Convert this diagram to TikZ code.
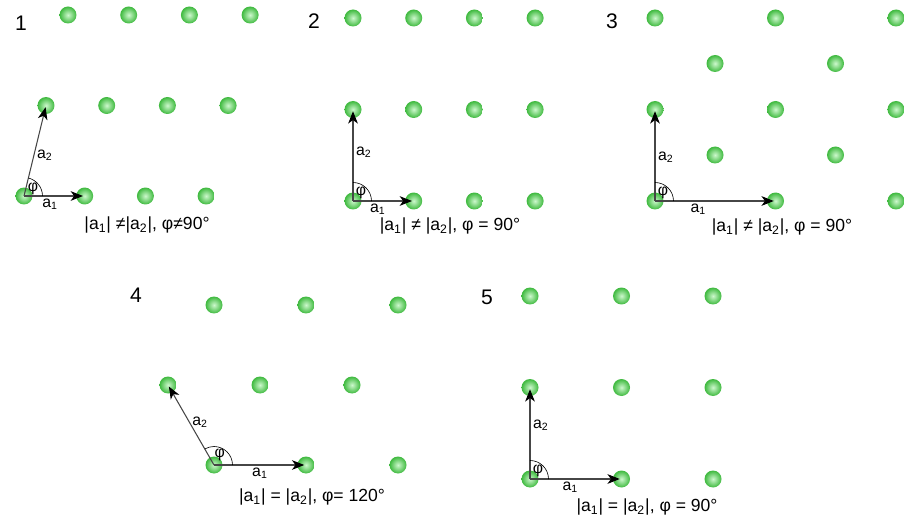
\documentclass[tikz,border=0pt]{standalone}
\usepackage{fontspec}
\setmainfont{Liberation Sans}
\usetikzlibrary{arrows.meta, angles, quotes}

\definecolor{dotin}{RGB}{205,248,205}
\definecolor{dotout}{RGB}{62,185,62}
\definecolor{vecgray}{RGB}{70,70,70}

\tikzset{
  site/.style={circle, inner sep=0pt, minimum size=0.34cm, shading=radial, inner color=dotin, outer color=dotout},
  vec/.style={draw=vecgray, line width=0.6pt, -{Stealth[black, length=7pt, width=5.5pt, inset=2pt]}, shorten >=1pt},
  phi/.style={draw, line width=0.35pt, angle radius=0.37cm, angle eccentricity=0.62},
  every pic quotes/.style={font=\small, inner sep=0pt},
  vlab/.style={font=\small, inner sep=1.5pt},
  num/.style={font=\large},
  lattcap/.style={font=\normalsize}
}

\begin{document}
\begin{tikzpicture}[x=0.02cm, y=0.02cm]
    \useasboundingbox (0,0) rectangle (915,531);
    % 1: oblique
    \foreach \j in {0,1,2} {
        \foreach \i in {0,...,3} {
            \node[site] (A\i\j) at (24+60.7*\i+22*\j, 335+90.5*\j) {};
        }
    }
    \draw[vec] (A00.center) -- node[vlab, below, pos=0.43] {a\textsubscript{1}} (A10.center);
    \draw[vec] (A00.center) -- node[vlab, right, pos=0.45] {a\textsubscript{2}} (A01.center);
    \pic[phi, "φ"] {angle=A10--A00--A01};
    \node[num] (n1) at (21,508) {1};
    \node[lattcap] (c1) at (147,306) {|a\textsubscript{1}| ≠|a\textsubscript{2}|, φ≠90°};

    % 2: rectangular
    \foreach \j in {0,1,2} {
        \foreach \i in {0,...,3} {
            \node[site] (B\i\j) at (353+60.7*\i, 330+91.5*\j) {};
        }
    }
    \draw[vec] (B00.center) -- node[vlab, below, pos=0.41] {a\textsubscript{1}} (B10.center);
    \draw[vec] (B00.center) -- node[vlab, right, pos=0.53] {a\textsubscript{2}} (B01.center);
    \pic[phi, "φ"] {angle=B10--B00--B01};
    \node[num] (n2) at (314,510) {2};
    \node[lattcap] (c2) at (450,305) {|a\textsubscript{1}| ≠ |a\textsubscript{2}|, φ = 90°};

    % 3: centred rectangular
    \foreach \j in {0,1,2} {
        \foreach \i in {0,1,2} {
            \node[site] (C\i\j) at (655+120.5*\i, 330+91.5*\j) {};
        }
    }
    \foreach \j in {0,1} {
        \foreach \i in {0,1} {
            \node[site] (Cc\i\j) at (715+120.5*\i, 376+91.5*\j) {};
        }
    }
    \draw[vec] (C00.center) -- node[vlab, below, pos=0.36] {a\textsubscript{1}} (C10.center);
    \draw[vec] (C00.center) -- node[vlab, right, pos=0.48] {a\textsubscript{2}} (C01.center);
    \pic[phi, "φ"] {angle=C10--C00--C01};
    \node[num] (n3) at (612,510) {3};
    \node[lattcap] (c3) at (782,304) {|a\textsubscript{1}| ≠ |a\textsubscript{2}|, φ = 90°};

    % 4: hexagonal
    \foreach \j in {0,1,2} {
        \foreach \i in {0,1,2} {
            \node[site] (D\i\j) at ({214+92*\i-46*mod(\j,2)}, {66+80*\j}) {};
        }
    }
    \draw[vec] (D00.center) -- node[vlab, below, pos=0.5] {a\textsubscript{1}} (D10.center);
    \draw[vec] (D00.center) -- node[vlab, right, pos=0.54] {a\textsubscript{2}} (D01.center);
    \pic[phi, "φ"] {angle=D10--D00--D01};
    \node[num] (n4) at (136,236) {4};
    \node[lattcap] (c4) at (312,34) {|a\textsubscript{1}| = |a\textsubscript{2}|, φ= 120°};

    % 5: square
    \foreach \j in {0,1,2} {
        \foreach \i in {0,1,2} {
            \node[site] (E\i\j) at (530+91.5*\i, 52+91.5*\j) {};
        }
    }
    \draw[vec] (E00.center) -- node[vlab, below, pos=0.44] {a\textsubscript{1}} (E10.center);
    \draw[vec] (E00.center) -- node[vlab, right, pos=0.59] {a\textsubscript{2}} (E01.center);
    \pic[phi, "φ"] {angle=E10--E00--E01};
    \node[num] (n5) at (487,234) {5};
    \node[lattcap] (c5) at (647,24) {|a\textsubscript{1}| = |a\textsubscript{2}|, φ = 90°};
\end{tikzpicture}
\end{document}
